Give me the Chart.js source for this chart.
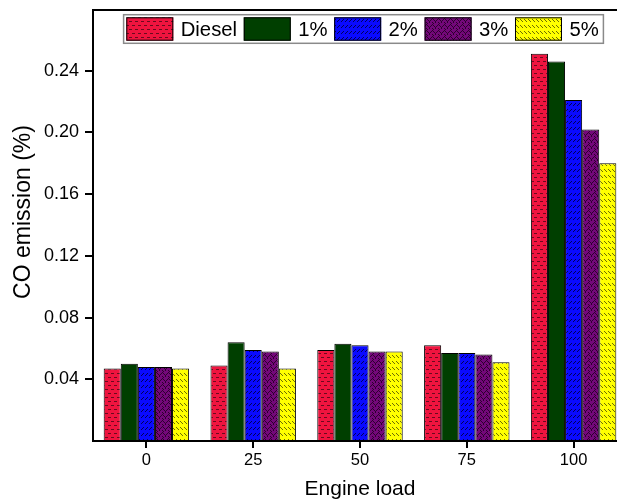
<!DOCTYPE html>
<html>
<head>
<meta charset="utf-8">
<script src="https://cdn.jsdelivr.net/npm/chart.js@4/dist/chart.umd.min.js"></script>
<style>
  html, body { margin: 0; padding: 0; background: #fff; overflow: hidden; }
  #wrap { position: relative; width: 635px; height: 502px; }
</style>
</head>
<body>
<div id="wrap"><canvas id="chart"></canvas></div>
<script>
// Engine load categories and CO emission (%) for each fuel blend
const loads = ['0', '25', '50', '75', '100'];
const diesel = [0.047, 0.049, 0.059, 0.062, 0.251];
const blend1 = [0.050, 0.064, 0.063, 0.057, 0.246];
const blend2 = [0.048, 0.059, 0.062, 0.057, 0.221];
const blend3 = [0.048, 0.058, 0.058, 0.056, 0.202];
const blend5 = [0.047, 0.047, 0.058, 0.051, 0.180];
const seriesNames = ['Diesel', '1%', '2%', '3%', '5%'];
const yTickValues = [0.04, 0.08, 0.12, 0.16, 0.20, 0.24];

const FONT = '"Liberation Sans", Arial, sans-serif';

// Small tiled fills for the hatched bars
function makePattern(w, h, base, ink, marks) {
  const c = document.createElement('canvas');
  c.width = w; c.height = h;
  const g = c.getContext('2d');
  g.fillStyle = base;
  g.fillRect(0, 0, w, h);
  g.fillStyle = ink;
  marks.forEach(m => g.fillRect(m[0], m[1], m[2] || 1, m[3] || 1));
  return g.createPattern(c, 'repeat');
}

const fills = [
  // red with staggered short dashes
  makePattern(6, 8, '#ef143f', '#6a0a1e', [[0, 1, 3, 1], [3, 5, 3, 1]]),
  // plain dark green
  '#003f00',
  // blue with short forward slashes
  makePattern(4, 6, '#0a0aff', '#00005a', [[1, 3], [2, 2], [3, 1]]),
  // purple with a dark weave
  makePattern(6, 6, '#74087a', '#2e002e', [[0, 0], [1, 1], [2, 2], [3, 3], [4, 2], [5, 1], [0, 4], [1, 5], [3, 4]]),
  // yellow with back slashes
  makePattern(4, 6, '#ffff00', '#6e6e00', [[0, 1], [1, 2], [2, 3]])
];

const seriesData = [diesel, blend1, blend2, blend3, blend5];

// Frame around the plot area
const framePlugin = {
  id: 'frame',
  afterDatasetsDraw(chart) {
    const { ctx, chartArea: a } = chart;
    ctx.save();
    ctx.strokeStyle = '#000';
    ctx.lineWidth = 2;
    ctx.strokeRect(a.left, a.top, a.right - a.left, a.bottom - a.top);
    ctx.restore();
  }
};

// Boxed legend placed inside the top of the plot
const legendPlugin = {
  id: 'boxLegend',
  afterDraw(chart) {
    const { ctx, chartArea: a } = chart;
    const left = a.left + 30.6, top = a.top + 4.7, h = 28.6;
    const swW = 47, swH = 23.4, gapIn = 7.4, gapOut = 6.7;
    ctx.save();
    ctx.font = '20.3px ' + FONT;
    let x = left + 2.7;
    const items = chart.data.datasets.map(ds => {
      const it = { x, ds };
      x += swW + gapIn + ctx.measureText(ds.label).width + gapOut;
      return it;
    });
    const right = x - gapOut + 4.7;
    ctx.fillStyle = '#fff';
    ctx.fillRect(left, top, right - left, h);
    ctx.strokeStyle = '#8a8a8a';
    ctx.lineWidth = 1.5;
    ctx.strokeRect(left, top, right - left, h);
    items.forEach(it => {
      const sy = top + (h - swH) / 2;
      ctx.fillStyle = it.ds.backgroundColor;
      ctx.fillRect(it.x, sy, swW, swH);
      ctx.strokeStyle = '#000';
      ctx.lineWidth = 1;
      ctx.strokeRect(it.x + 0.5, sy + 0.5, swW - 1, swH - 1);
      ctx.fillStyle = '#000';
      ctx.textBaseline = 'middle';
      ctx.textAlign = 'left';
      ctx.fillText(it.ds.label, it.x + swW + gapIn, top + h / 2 + 1);
    });
    ctx.restore();
  }
};

// Vertical axis title
const yTitlePlugin = {
  id: 'yTitle',
  afterDraw(chart) {
    const { ctx } = chart;
    ctx.save();
    ctx.translate(24, 212);
    ctx.rotate(-Math.PI / 2);
    ctx.font = '23px ' + FONT;
    ctx.fillStyle = '#000';
    ctx.textAlign = 'center';
    ctx.textBaseline = 'middle';
    ctx.fillText('CO emission (%)', 0, 0);
    ctx.restore();
  }
};

new Chart(document.getElementById('chart'), {
  type: 'bar',
  data: {
    labels: loads,
    datasets: seriesData.map((d, i) => ({
      label: seriesNames[i],
      data: d,
      backgroundColor: fills[i],
      borderColor: '#000',
      borderWidth: 1,
      categoryPercentage: 0.80,
      barPercentage: 1
    }))
  },
  options: {
    responsive: true,
    maintainAspectRatio: false,
    animation: false,
    devicePixelRatio: 1,
    layout: { padding: { left: 0, top: 10, right: 8, bottom: 0 } },
    plugins: {
      legend: { display: false },
      tooltip: { enabled: false }
    },
    scales: {
      x: {
        offset: true,
        afterFit(s) { s.height = 61; s.paddingLeft = 0; s.paddingRight = 0; },
        grid: { offset: false, drawOnChartArea: false, drawTicks: true, tickLength: 7, color: '#000', lineWidth: 2 },
        border: { display: true, color: '#000', width: 2 },
        ticks: { color: '#000', padding: 3, font: { family: FONT, size: 16.5 } },
        title: { display: true, text: 'Engine load', color: '#000', padding: { top: 0, bottom: 0 }, font: { family: FONT, size: 21 } }
      },
      y: {
        min: 0,
        max: 0.2794,
        afterFit(s) { s.width = 93; s.paddingTop = 0; s.paddingBottom = 0; },
        afterBuildTicks(s) { s.ticks = yTickValues.map(v => ({ value: v })); },
        grid: { drawOnChartArea: false, drawTicks: true, tickLength: 8, color: '#000', lineWidth: 2 },
        border: { display: true, color: '#000', width: 2 },
        ticks: { color: '#000', padding: 6, font: { family: FONT, size: 18 }, callback: v => Number(v).toFixed(2) }
      }
    }
  },
  plugins: [framePlugin, legendPlugin, yTitlePlugin]
});
</script>
</body>
</html>
